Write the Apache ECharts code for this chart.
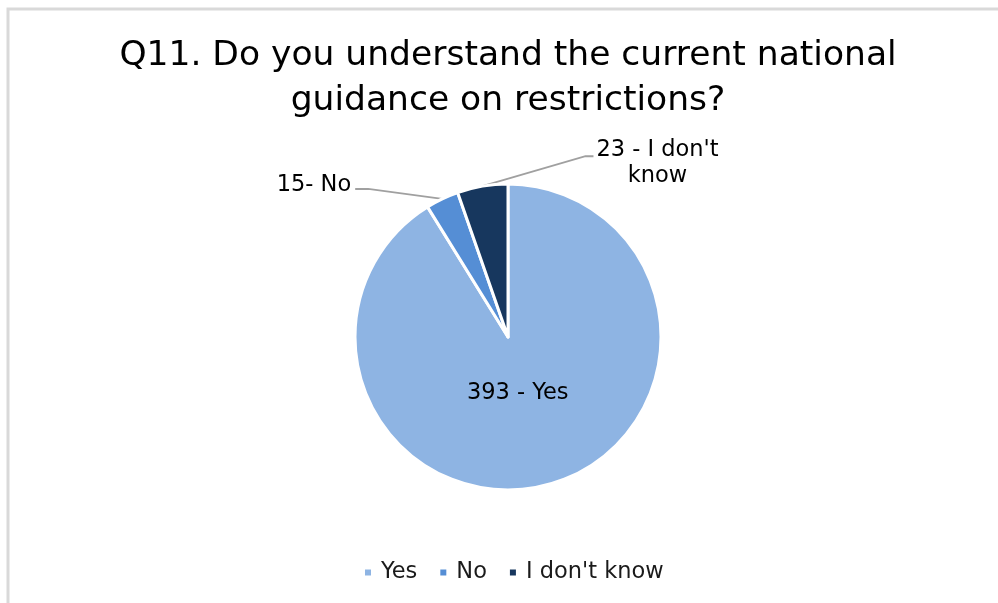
<!DOCTYPE html>
<html>
<head>
<meta charset="utf-8">
<script src="https://cdn.jsdelivr.net/npm/echarts@6/dist/echarts.min.js"></script>
<style>
  html, body { margin: 0; padding: 0; background: #fff; }
  #chart { width: 998px; height: 603px; }
</style>
</head>
<body>
<div id="chart"></div>
<script>
// Survey answers for Q11
const categories = ['Yes', 'No', "I don't know"];
const counts = [393, 15, 23];
const colors = ['#8EB4E3', '#558ED5', '#17375E'];
// separator between count and answer in each slice label
const labelSeparators = [' - ', '- ', ' - '];

const FONT = '"DejaVu Sans", Tahoma, Verdana, sans-serif';

const chart = echarts.init(document.getElementById('chart'), null, { renderer: 'canvas' });

const option = {
  backgroundColor: '#ffffff',
  animation: false,
  title: {
    text: 'Q11. Do you understand the current national\nguidance on restrictions?',
    left: 503,
    textAlign: 'center',
    top: 29,
    textStyle: {
      fontFamily: FONT,
      fontSize: 34.5,
      fontWeight: 'normal',
      color: '#000000',
      lineHeight: 45
    }
  },
  legend: {
    data: categories,
    left: 358,
    top: 556,
    icon: 'rect',
    itemWidth: 8,
    itemHeight: 8,
    itemGap: 21,
    textStyle: { fontFamily: FONT, fontSize: 22.5, color: '#1a1a1a', padding: [0, 0, 0, 4] }
  },
  graphic: [{
    type: 'polyline',
    silent: true,
    shape: { points: [[8, 603], [8, 9], [998, 9]] },
    style: { stroke: '#D9D9D9', lineWidth: 3, fill: null }
  }],
  series: [{
    type: 'pie',
    center: [508, 337],
    radius: 153,
    startAngle: 90,
    clockwise: true,
    avoidLabelOverlap: false,
    itemStyle: { borderColor: '#ffffff', borderWidth: 3 },
    label: {
      show: true,
      position: 'outside',
      fontFamily: FONT,
      fontSize: 22.5,
      color: '#000000',
      lineHeight: 26,
      align: 'center',
      formatter: function (p) {
        const name = p.dataIndex === 2 ? p.name.replace("don't ", "don't\n") : p.name;
        return p.value + labelSeparators[p.dataIndex] + name;
      }
    },
    labelLine: {
      show: true,
      length: 20,
      length2: 10,
      lineStyle: { color: '#A0A0A0', width: 2 }
    },
    labelLayout: function (p) {
      if (p.dataIndex === 0) {
        return { dx: -12, dy: -20 };
      }
      const pts = p.labelLinePoints;
      if (!pts) return {};
      const a = pts[0];
      if (p.dataIndex === 1) {
        const elbow = [a[0] - 74, a[1] - 10];
        const end = [elbow[0] - 13, elbow[1]];
        return {
          x: end[0] - 4, y: end[1] - 4,
          align: 'right', verticalAlign: 'middle',
          labelLinePoints: [a, elbow, end]
        };
      }
      const elbow = [a[0] + 103, a[1] - 30];
      const end = [elbow[0] + 8, elbow[1]];
      return {
        x: end[0] + 64, y: end[1] + 7,
        align: 'center', verticalAlign: 'middle',
        labelLinePoints: [a, elbow, end]
      };
    },
    data: categories.map(function (c, i) {
      const item = { name: c, value: counts[i], itemStyle: { color: colors[i] } };
      if (i === 0) {
        item.label = { position: 'inside' };
        item.labelLine = { show: false };
      }
      return item;
    })
  }]
};

chart.setOption(option);
</script>
</body>
</html>
